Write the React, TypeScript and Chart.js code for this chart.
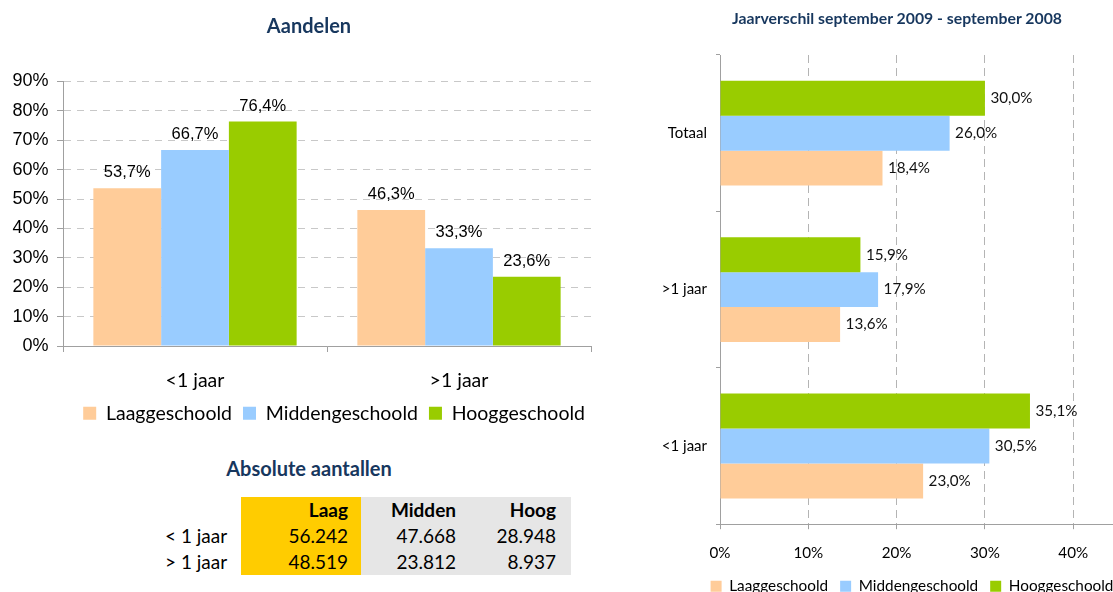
import React, { useEffect, useRef } from 'react';
import { Chart, registerables } from 'chart.js';

Chart.register(...registerables);

// ---- Data: Aandelen (shares, %) ----
const shareCategories = ['<1 jaar', '>1 jaar'];
const shareLaag = [53.7, 46.3];
const shareMidden = [66.7, 33.3];
const shareHoog = [76.4, 23.6];
const shareTicks = [0, 10, 20, 30, 40, 50, 60, 70, 80, 90];

// ---- Data: Jaarverschil september 2009 - september 2008 (%) ----
const diffCategories = ['Totaal', '>1 jaar', '<1 jaar'];
const diffLaag = [18.4, 13.6, 23.0];
const diffMidden = [26.0, 17.9, 30.5];
const diffHoog = [30.0, 15.9, 35.1];
const diffTicks = [0, 10, 20, 30, 40];

// ---- Series ----
const seriesNames = ['Laaggeschoold', 'Middengeschoold', 'Hooggeschoold'];
const seriesColors = ['#FFCC99', '#99CCFF', '#99CC00'];

// ---- Table: Absolute aantallen ----
const tableColumns = ['Laag', 'Midden', 'Hoog'];
const tableRows = ['< 1 jaar', '> 1 jaar'];
const tableLaag = ['56.242', '48.519'];
const tableMidden = ['47.668', '23.812'];
const tableHoog = ['28.948', '8.937'];

const TITLE_COLOR = '#17375E';
const AXIS_COLOR = '#A0A0A0';
const CAL = 'Lato, "Open Sans", sans-serif';
const ARIAL = '"Liberation Sans", Arial, sans-serif';

const fmtPct = (v: number) => v.toFixed(1).replace('.', ',') + '%';

const valueLabelPlugin = {
  id: 'valueLabels',
  afterDatasetsDraw(chart: any, _args: any, opts: any) {
    const ctx = chart.ctx;
    ctx.save();
    ctx.font = opts.font;
    ctx.fillStyle = opts.color || '#000';
    chart.data.datasets.forEach((ds: any, i: number) => {
      const meta = chart.getDatasetMeta(i);
      if (meta.hidden) return;
      meta.data.forEach((el: any, j: number) => {
        const txt = fmtPct(ds.data[j]);
        ctx.textBaseline = 'middle';
        if (opts.horizontal) {
          ctx.textAlign = 'left';
          ctx.fillText(txt, el.x + opts.offset, el.y);
        } else {
          ctx.textAlign = 'center';
          ctx.fillText(txt, el.x, el.y - opts.offset);
        }
      });
    });
    ctx.restore();
  },
};

// nudges the legend box horizontally after layout
const legendShiftPlugin = {
  id: 'legendShift',
  afterLayout(chart: any, _args: any, opts: any) {
    const lg = chart.legend;
    if (lg && opts && opts.dx) {
      lg.left += opts.dx;
      lg.right += opts.dx;
    }
  },
};

function SharesChart() {
  const ref = useRef<HTMLCanvasElement>(null);
  useEffect(() => {
    const seriesData = [shareLaag, shareMidden, shareHoog];
    const chart = new Chart(ref.current as HTMLCanvasElement, {
      type: 'bar',
      data: {
        labels: shareCategories,
        datasets: seriesData.map((d, i) => ({
          label: seriesNames[i],
          data: d,
          backgroundColor: seriesColors[i],
          borderWidth: 0,
          categoryPercentage: 0.77,
          barPercentage: 1,
        })),
      },
      options: {
        animation: false,
        responsive: false,
        maintainAspectRatio: false,
        layout: { padding: { top: 81.5, left: 0, right: 27, bottom: 0 } },
        plugins: {
          legend: {
            position: 'bottom',
            align: 'end',
            labels: {
              boxWidth: 13,
              boxHeight: 13,
              padding: 11,
              color: '#000',
              font: { family: CAL, size: 19.5 },
            },
          },
          legendShift: { dx: 5 },
          tooltip: { enabled: false },
          valueLabels: { font: `16.5px ${ARIAL}`, color: '#000', offset: 15.5 },
        } as any,
        scales: {
          x: {
            grid: { offset: true, drawOnChartArea: false, drawTicks: true, tickLength: 6, color: AXIS_COLOR },
            border: { color: AXIS_COLOR, width: 1 },
            ticks: { color: '#000', padding: 17, font: { family: CAL, size: 19.5 } },
            afterFit: (s: any) => {
              s.height = 46.5;
            },
          },
          y: {
            min: 0,
            max: 90,
            afterBuildTicks: (axis: any) => {
              axis.ticks = shareTicks.map((v) => ({ value: v }));
            },
            ticks: {
              callback: (v: any) => v + '%',
              color: '#000',
              padding: 8.5,
              font: { family: ARIAL, size: 18 },
            },
            grid: { color: '#C8C8C8', tickColor: AXIS_COLOR, tickLength: 6, tickBorderDash: [] },
            border: { color: AXIS_COLOR, dash: [7, 6] },
            afterFit: (s: any) => {
              s.width = 63;
            },
          },
        } as any,
      },
      plugins: [valueLabelPlugin, legendShiftPlugin],
    } as any);
    return () => chart.destroy();
  }, []);
  return (
    <canvas
      ref={ref}
      width={618}
      height={433}
      style={{ position: 'absolute', left: 0, top: 0, width: 618, height: 433 }}
    />
  );
}

function DiffChart() {
  const ref = useRef<HTMLCanvasElement>(null);
  useEffect(() => {
    // top-to-bottom within each group: Hoog, Midden, Laag
    const order = [2, 1, 0];
    const seriesData = [diffLaag, diffMidden, diffHoog];
    const chart = new Chart(ref.current as HTMLCanvasElement, {
      type: 'bar',
      data: {
        labels: diffCategories,
        datasets: order.map((i) => ({
          label: seriesNames[i],
          data: seriesData[i],
          backgroundColor: seriesColors[i],
          borderWidth: 0,
          categoryPercentage: 0.67,
          barPercentage: 1,
        })),
      },
      options: {
        indexAxis: 'y',
        animation: false,
        responsive: false,
        maintainAspectRatio: false,
        layout: { padding: { top: 55, left: 0, right: 12.6, bottom: 0 } },
        plugins: {
          legend: {
            position: 'bottom',
            align: 'end',
            reverse: true,
            labels: {
              boxWidth: 11,
              boxHeight: 11,
              padding: 12,
              color: '#000',
              font: { family: CAL, size: 15.3 },
            },
          },
          legendShift: { dx: 8 },
          tooltip: { enabled: false },
          valueLabels: { font: `15.2px ${CAL}`, color: '#111', offset: 5.5, horizontal: true },
        } as any,
        scales: {
          x: {
            min: 0,
            max: 45,
            afterBuildTicks: (axis: any) => {
              axis.ticks = diffTicks.map((v) => ({ value: v }));
            },
            ticks: {
              callback: (v: any) => v + '%',
              color: '#000',
              padding: 15,
              font: { family: CAL, size: 15.2 },
            },
            grid: { color: '#B4B4B4', tickColor: AXIS_COLOR, tickLength: 5, tickBorderDash: [] },
            border: { color: AXIS_COLOR, dash: [8, 5] },
            afterFit: (s: any) => {
              s.height = 42.5;
            },
          },
          y: {
            grid: { offset: true, drawOnChartArea: false, tickLength: 4, color: AXIS_COLOR },
            border: { color: AXIS_COLOR },
            ticks: { color: '#000', padding: 9, font: { family: CAL, size: 15 } },
            afterFit: (s: any) => {
              s.width = 80;
            },
          },
        } as any,
      },
      plugins: [valueLabelPlugin, legendShiftPlugin],
    } as any);
    return () => chart.destroy();
  }, []);
  return (
    <canvas
      ref={ref}
      width={490}
      height={604}
      style={{ position: 'absolute', left: 640, top: 0, width: 490, height: 604 }}
    />
  );
}

const titleStyle = (cx: number, cy: number, size: number, w: number): React.CSSProperties => ({
  position: 'absolute',
  left: cx - w / 2,
  top: cy - size * 0.6,
  width: w,
  textAlign: 'center',
  fontFamily: CAL,
  fontWeight: 700,
  fontSize: size,
  lineHeight: `${size * 1.2}px`,
  color: TITLE_COLOR,
  whiteSpace: 'nowrap',
});

function CountsTable() {
  const cell: React.CSSProperties = {
    height: 26,
    padding: 0,
    lineHeight: '26px',
    textAlign: 'right',
    whiteSpace: 'nowrap',
  };
  const widths = [120, 108, 102];
  const pads = [13, 13, 15];
  const bgs = ['#FFCC00', '#E6E6E6', '#E6E6E6'];
  const cols = [tableLaag, tableMidden, tableHoog];
  return (
    <div style={{ position: 'absolute', left: 160, top: 497 }}>
      <table
        style={{
          borderCollapse: 'collapse',
          fontFamily: CAL,
          fontSize: 19,
          color: '#000',
        }}
      >
        <tbody>
          <tr>
            <td style={{ ...cell, width: 81 }}></td>
            {tableColumns.map((c, i) => (
              <td
                key={c}
                style={{ ...cell, width: widths[i] - pads[i], paddingRight: pads[i], background: bgs[i], fontWeight: 700 }}
              >
                {c}
              </td>
            ))}
          </tr>
          {tableRows.map((r, ri) => (
            <tr key={r}>
              <td style={{ ...cell, width: 76, paddingLeft: 5, textAlign: 'left' }}>{r}</td>
              {cols.map((col, ci) => (
                <td
                  key={ci}
                  style={{ ...cell, width: widths[ci] - pads[ci], paddingRight: pads[ci], background: bgs[ci] }}
                >
                  {col[ri]}
                </td>
              ))}
            </tr>
          ))}
        </tbody>
      </table>
    </div>
  );
}

export default function App() {
  return (
    <div
      style={{
        position: 'absolute',
        left: 0,
        top: 0,
        width: 1113,
        height: 592,
        overflow: 'hidden',
        background: '#fff',
      }}
    >
      <SharesChart />
      <div style={titleStyle(309, 25, 20, 300)}>Aandelen</div>
      <div style={titleStyle(309, 468, 20, 300)}>Absolute aantallen</div>
      <CountsTable />
      <DiffChart />
      <div style={titleStyle(897, 18, 15.8, 440)}>Jaarverschil september 2009 - september 2008</div>
    </div>
  );
}
